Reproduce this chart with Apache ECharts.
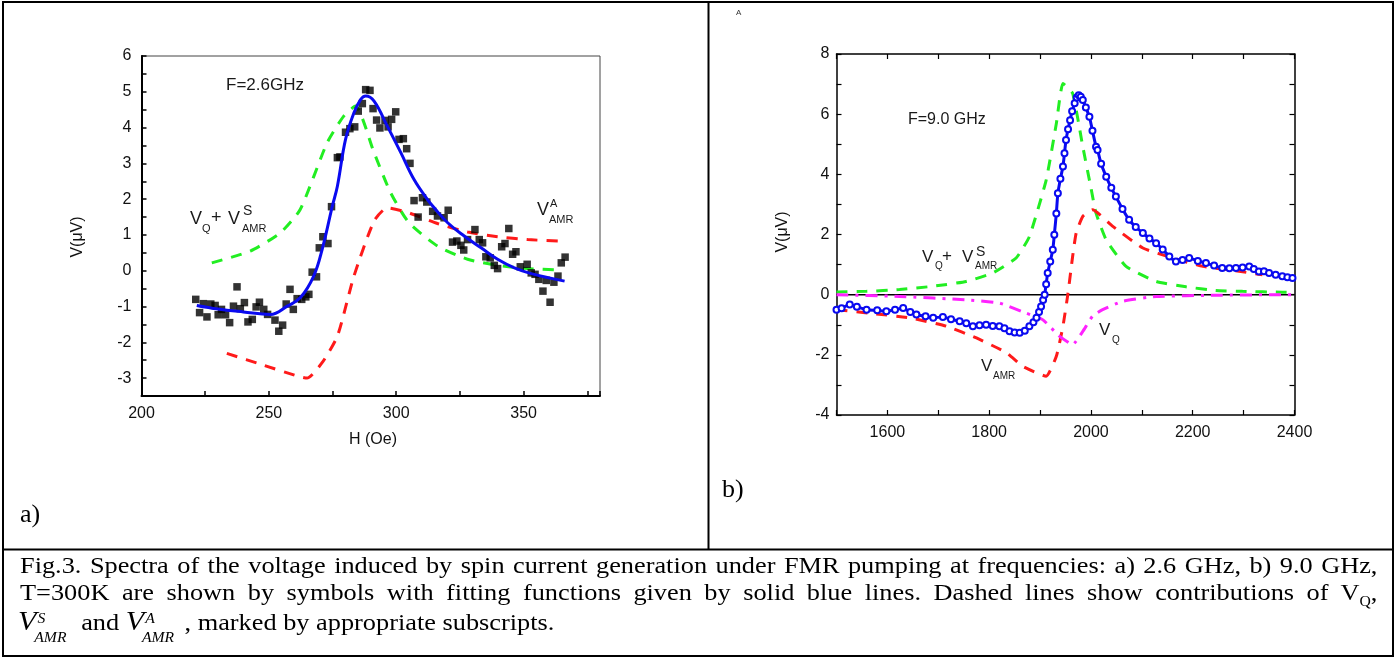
<!DOCTYPE html>
<html>
<head>
<meta charset="utf-8">
<script src="https://cdn.jsdelivr.net/npm/echarts@6/dist/echarts.min.js"></script>
<style>
  html, body { margin: 0; padding: 0; background: #fff; }
  #wrap { position: relative; width: 1397px; height: 659px; }
  #chart { position: absolute; left: 0; top: 0; width: 1397px; height: 659px; }
  .cap { position: absolute; left: 20px; width: 1212px; font-family: "Liberation Serif", "Times New Roman", serif;
         font-size: 23.5px; line-height: 27px; color: #000; white-space: nowrap;
         transform: scaleX(1.12); transform-origin: 0 0; }
  .just { text-align: justify; text-align-last: justify; white-space: normal; }
  .mv { font-style: italic; font-size: 27px; }
  .st { display: inline-block; position: relative; width: 34px; height: 1em; font-style: italic; font-size: 14px; }
  .st .u { position: absolute; left: 1px; top: -11px; }
  .st .d { position: absolute; left: -2px; top: 8px; }
  sub { font-size: 14px; }
</style>
</head>
<body>
<div id="wrap">
  <div id="chart"></div>
  <div class="cap just" style="top:552px;">Fig.3. Spectra of the voltage induced by spin current generation under FMR pumping at frequencies: a) 2.6 GHz, b) 9.0 GHz,</div>
  <div class="cap just" style="top:579px;">T=300K are shown by symbols with fitting functions given by solid blue lines. Dashed lines show contributions of V<sub>Q</sub>,</div>
  <div class="cap" style="top:608px; left:18px;"><span class="mv">V</span><span class="st"><span class="u">S</span><span class="d">AMR</span></span> and <span class="mv">V</span><span class="st" style="width:36px"><span class="u">A</span><span class="d">AMR</span></span>, marked by appropriate subscripts.</div>
</div>
<script>
// ---------- Panel a) data (F = 2.6 GHz) ----------
const aDataH = [221.3,222.8,224.3,225.7,227.2,228.9,230.1,231.4,233.0,234.6,236.1,237.5,238.8,240.4,241.8,243.5,245.0,246.3,248.0,249.5,252.4,253.9,255.4,256.8,258.3,259.6,261.1,262.9,264.5,265.7,267.0,268.7,269.8,271.2,273.2,274.6,276.9,277.9,280.1,281.8,283.7,285.1,286.7,288.0,289.7,290.9,292.3,293.6,295.6,296.8,298.2,299.8,301.1,302.8,304.1,305.4,307.0,308.6,310.3,312.0,314.3,316.2,318.8,320.4,322.1,323.8,325.4,326.5,328.0,330.9,332.6,333.9,335.2,336.9,338.5,339.8,341.4,342.7,344.2,345.7,347.0,348.7,351.4,353.0,354.5,356.0,357.6,358.9,360.4,361.9,363.5,364.8,366.3];
const aDataV = [-0.80,-1.17,-0.92,-1.29,-0.93,-0.97,-1.23,-1.08,-1.23,-1.45,-0.99,-0.45,-1.06,-0.89,-1.43,-1.36,-1.01,-0.88,-1.08,-1.22,-1.38,-1.69,-1.52,-0.93,-0.52,-1.08,-0.78,-0.80,-0.73,-0.66,-0.04,-0.17,0.64,0.95,0.76,1.79,3.16,3.18,3.87,3.97,4.02,4.46,4.67,5.06,5.04,4.53,4.21,3.99,4.20,4.02,4.23,4.44,3.67,3.69,3.41,3.00,1.96,1.50,2.04,1.92,1.66,1.53,1.48,1.69,0.80,0.83,0.71,0.58,0.87,1.15,0.87,0.78,0.39,0.36,0.15,0.06,0.67,0.76,1.18,0.46,0.53,0.11,0.18,-0.06,-0.10,-0.24,-0.57,-0.27,-0.88,-0.32,-0.15,0.22,0.38];
const aFitH = [221.7,230,240,250.6,257.2,262.4,267.6,270.9,274.9,276.9,280.1,283.4,286,288,291.3,296.5,301.8,307,312.3,314.9,320.2,326.7,333.3,339.8,346.4,353,366.1];
const aFitV = [-0.97,-1.07,-1.15,-1.22,-0.99,-0.75,-0.15,0.59,1.80,2.36,3.67,4.41,4.78,4.88,4.74,4.04,3.30,2.55,1.99,1.76,1.34,0.97,0.64,0.32,0.08,-0.08,-0.29];
const aSymH = [227.6,242.7,254.5,262.3,272.9,279.4,284,291.3,297.8,305,316.2,328,339.8,351.6,364.1];
const aSymV = [0.22,0.55,1.06,1.71,3.58,4.32,4.6,3.30,2.18,1.34,0.69,0.32,0.15,0.06,0.02];
const aAntiH = [233.5,248,261.1,265,270.9,276.9,283.4,291.3,296.5,304.4,316.2,328,339.8,351.6,363.5];
const aAntiV = [-2.31,-2.64,-2.94,-3.0,-2.57,-1.83,-0.15,1.39,1.76,1.63,1.32,1.08,0.95,0.87,0.83];
const aXTicks = [200,250,300,350];
const aYTicks = [-3,-2,-1,0,1,2,3,4,5,6];

// ---------- Panel b) data (F = 9.0 GHz) ----------
const bDataH = [1500,1510,1526,1540,1559,1580,1598,1615,1631,1645,1657,1675,1690,1709,1725,1742,1755,1768,1781,1794,1807,1820,1830,1840,1850,1860,1870,1879,1887,1893,1898,1902,1906,1909,1912,1915,1920,1925,1928,1932,1935,1940,1945,1948,1951,1955,1959,1963,1968,1972,1976,1980,1984,1990,1997,2003,2010,2013,2020,2030,2040,2049,2062,2075,2088,2102,2115,2128,2141,2154,2167,2180,2193,2210,2226,2242,2258,2272,2285,2298,2311,2320,2330,2340,2350,2363,2376,2386,2396];
const bDataV = [-0.50,-0.45,-0.33,-0.40,-0.50,-0.52,-0.55,-0.50,-0.44,-0.58,-0.66,-0.72,-0.77,-0.74,-0.82,-0.88,-0.95,-1.05,-1.02,-1.00,-1.04,-1.05,-1.12,-1.22,-1.26,-1.27,-1.20,-1.05,-0.92,-0.77,-0.58,-0.39,-0.18,0.0,0.35,0.72,1.10,1.49,1.99,2.70,3.37,3.85,4.26,4.70,5.14,5.50,5.80,6.10,6.36,6.55,6.63,6.58,6.47,6.22,5.91,5.45,4.92,4.81,4.35,3.92,3.55,3.26,2.85,2.49,2.25,2.05,1.87,1.71,1.50,1.27,1.10,1.15,1.22,1.12,1.05,0.97,0.89,0.88,0.89,0.90,0.94,0.85,0.77,0.78,0.72,0.66,0.61,0.58,0.55];
const bSymH = [1500,1559,1624,1690,1755,1807,1853,1879,1912,1932,1945,1964,1984,2000,2010,2030,2069,2128,2187,2245,2298,2376,2400];
const bSymV = [0.09,0.11,0.17,0.28,0.44,0.72,1.22,1.93,3.81,5.69,7.02,6.69,4.92,3.55,2.71,1.82,0.94,0.44,0.26,0.14,0.11,0.08,0.07];
const bAmrH = [1500,1572,1644,1716,1775,1834,1866,1912,1932,1945,1955,1964,1971,1984,2003,2043,2102,2161,2220,2278,2337];
const bAmrV = [-0.50,-0.63,-0.77,-1.05,-1.44,-1.93,-2.38,-2.71,-2.05,-1.05,0.06,1.27,2.05,2.60,2.82,2.27,1.55,1.22,0.94,0.81,0.66];
const bQH = [1500,1624,1755,1820,1872,1905,1938,1964,1984,2003,2023,2062,2128,2245,2376,2400];
const bQV = [0,-0.06,-0.17,-0.28,-0.61,-0.83,-1.38,-1.66,-1.22,-0.72,-0.50,-0.22,-0.06,-0.02,0,0];
const bZeroH = [1500,2400];
const bZeroV = [0,0];
const bXTicks = [1600,1800,2000,2200,2400];
const bYTicks = [-4,-2,0,2,4,6,8];

const zip = (xs, ys) => xs.map((x, i) => [x, ys[i]]);

const BLUE = '#0a0af0', GREEN = '#22ee22', RED = '#ff1a1a', MAG = '#ff22ff';
const FONT = 'Liberation Sans, Arial, sans-serif';

function T(x, y, text, size, extra) {
  return Object.assign({
    type: 'text', x: x, y: y,
    style: { text: text, fontSize: size, fontFamily: FONT, fill: '#1a1a1a', textAlign: 'left', textVerticalAlign: 'middle' }
  }, extra || {});
}

const chart = echarts.init(document.getElementById('chart'), null, { renderer: 'canvas' });

const tickLabel = { fontSize: 16, fontFamily: FONT, color: '#111' };
const tickA = { inside: true, length: 5, lineStyle: { color: '#000', width: 1.5 } };
const tickB = { inside: true, length: 5, lineStyle: { color: '#000', width: 1.2 } };

const option = {
  animation: false,
  backgroundColor: '#fff',
  grid: [
    { left: 141.5, top: 56, width: 458.5, height: 340, show: true, borderColor: '#444', borderWidth: 1, backgroundColor: 'transparent' },
    { left: 836.5, top: 54, width: 458, height: 361, show: false }
  ],
  xAxis: [
    { gridIndex: 0, type: 'value', min: 200, max: 380, interval: 25,
      axisLine: { onZero: false, lineStyle: { color: '#000', width: 2 } },
      axisTick: tickA,
      axisLabel: Object.assign({ margin: 10, formatter: v => aXTicks.indexOf(v) >= 0 ? String(v) : '' }, tickLabel),
      splitLine: { show: false } },
    { gridIndex: 1, type: 'value', min: 1500, max: 2400, interval: 100,
      axisLine: { onZero: false, lineStyle: { color: '#000', width: 1.5 } },
      axisTick: tickB,
      axisLabel: Object.assign({ margin: 10, formatter: v => bXTicks.indexOf(v) >= 0 ? String(v) : '' }, tickLabel),
      splitLine: { show: false } },
    { gridIndex: 1, type: 'value', position: 'top', min: 1500, max: 2400, interval: 100,
      axisLine: { onZero: false, lineStyle: { color: '#000', width: 1.5 } },
      axisTick: tickB,
      axisLabel: { show: false }, splitLine: { show: false } }
  ],
  yAxis: [
    { gridIndex: 0, type: 'value', min: -3.5, max: 6, interval: 0.5,
      axisLine: { onZero: false, lineStyle: { color: '#000', width: 2 } },
      axisTick: tickA,
      axisLabel: Object.assign({ margin: 10, formatter: v => aYTicks.indexOf(v) >= 0 ? String(v) : '' }, tickLabel),
      splitLine: { show: false } },
    { gridIndex: 1, type: 'value', min: -4, max: 8, interval: 1,
      axisLine: { onZero: false, lineStyle: { color: '#000', width: 1.5 } },
      axisTick: tickB,
      axisLabel: Object.assign({ margin: 7, formatter: v => bYTicks.indexOf(v) >= 0 ? String(v) : '' }, tickLabel),
      splitLine: { show: false } },
    { gridIndex: 1, type: 'value', position: 'right', min: -4, max: 8, interval: 1,
      axisLine: { onZero: false, lineStyle: { color: '#000', width: 1.5 } },
      axisTick: tickB,
      axisLabel: { show: false }, splitLine: { show: false } }
  ],
  series: [
    // panel a
    { type: 'line', xAxisIndex: 0, yAxisIndex: 0, data: zip(aSymH, aSymV), showSymbol: false, smooth: 0.2,
      lineStyle: { color: GREEN, width: 3, type: [11, 9] }, z: 2 },
    { type: 'line', xAxisIndex: 0, yAxisIndex: 0, data: zip(aAntiH, aAntiV), showSymbol: false, smooth: 0.2,
      lineStyle: { color: RED, width: 3, type: [11, 9] }, z: 2 },
    { type: 'scatter', xAxisIndex: 0, yAxisIndex: 0, data: zip(aDataH, aDataV), symbol: 'rect', symbolSize: 7.5,
      itemStyle: { color: '#000' }, z: 3 },
    { type: 'line', xAxisIndex: 0, yAxisIndex: 0, data: zip(aFitH, aFitV), showSymbol: false, smooth: 0.4,
      lineStyle: { color: BLUE, width: 3 }, z: 4 },
    // panel b
    { type: 'line', xAxisIndex: 1, yAxisIndex: 1, data: zip(bZeroH, bZeroV), showSymbol: false,
      lineStyle: { color: '#000', width: 1.5 }, z: 1 },
    { type: 'line', xAxisIndex: 1, yAxisIndex: 1, data: zip(bSymH, bSymV), showSymbol: false, smooth: 0.15,
      lineStyle: { color: GREEN, width: 3, type: [11, 9] }, z: 2 },
    { type: 'line', xAxisIndex: 1, yAxisIndex: 1, data: zip(bAmrH, bAmrV), showSymbol: false, smooth: 0.15,
      lineStyle: { color: RED, width: 3, type: [11, 9] }, z: 2 },
    { type: 'line', xAxisIndex: 1, yAxisIndex: 1, data: zip(bQH, bQV), showSymbol: false, smooth: 0.15,
      lineStyle: { color: MAG, width: 3, type: [12, 7, 3, 7] }, z: 2 },
    { type: 'line', xAxisIndex: 1, yAxisIndex: 1, data: zip(bDataH, bDataV), smooth: 0.2,
      symbol: 'emptyCircle', symbolSize: 6, showSymbol: true, showAllSymbol: true,
      itemStyle: { color: BLUE, borderColor: BLUE, borderWidth: 1.5 },
      lineStyle: { color: BLUE, width: 3, type: 'solid' }, z: 4 }
  ],
  graphic: [
    // frames
    { type: 'rect', shape: { x: 3, y: 2, width: 1390, height: 654 }, style: { fill: 'none', stroke: '#000', lineWidth: 2 }, z: 100 },
    { type: 'line', shape: { x1: 708.5, y1: 2, x2: 708.5, y2: 549 }, style: { stroke: '#000', lineWidth: 2 }, z: 100 },
    { type: 'line', shape: { x1: 3, y1: 549.5, x2: 1393, y2: 549.5 }, style: { stroke: '#000', lineWidth: 2 }, z: 100 },
    // panel a texts
    T(226, 85, 'F=2.6GHz', 17),
    T(190, 219, 'V', 18), T(202, 229, 'Q', 11), T(211, 218, '+', 18), T(228, 219, 'V', 18), T(243, 211, 'S', 14), T(242, 229, 'AMR', 11),
    T(537, 210, 'V', 18), T(550, 204, 'A', 11), T(549, 220, 'AMR', 11),
    { type: 'text', x: 373, y: 440,
      style: { text: 'H (Oe)', fontSize: 16, fontFamily: FONT, fill: '#111', textAlign: 'center', textVerticalAlign: 'middle' } },
    { type: 'text', x: 78, y: 237, rotation: Math.PI / 2,
      style: { text: 'V(μV)', fontSize: 16, fontFamily: FONT, fill: '#111', textAlign: 'center', textVerticalAlign: 'middle' } },
    { type: 'text', x: 20, y: 515, style: { text: 'a)', fontSize: 26, fontFamily: 'Liberation Serif, Times New Roman, serif', fill: '#000', textAlign: 'left', textVerticalAlign: 'middle' } },
    // panel b texts
    { type: 'text', x: 736, y: 13, style: { text: 'A', fontSize: 8, fontFamily: FONT, fill: '#333', textAlign: 'left', textVerticalAlign: 'middle' } },
    T(908, 120, 'F=9.0 GHz', 16),
    T(922, 257, 'V', 17), T(935, 266, 'Q', 10), T(942, 256, '+', 17), T(962, 257, 'V', 17), T(976, 252, 'S', 14), T(975, 266, 'AMR', 10),
    T(981, 366, 'V', 17), T(993, 376, 'AMR', 10),
    T(1099, 330, 'V', 17), T(1112, 340, 'Q', 10),
    { type: 'text', x: 783, y: 232, rotation: Math.PI / 2,
      style: { text: 'V(μV)', fontSize: 16, fontFamily: FONT, fill: '#111', textAlign: 'center', textVerticalAlign: 'middle' } },
    { type: 'text', x: 722, y: 490, style: { text: 'b)', fontSize: 26, fontFamily: 'Liberation Serif, Times New Roman, serif', fill: '#000', textAlign: 'left', textVerticalAlign: 'middle' } }
  ]
};
chart.setOption(option);
</script>
</body>
</html>
